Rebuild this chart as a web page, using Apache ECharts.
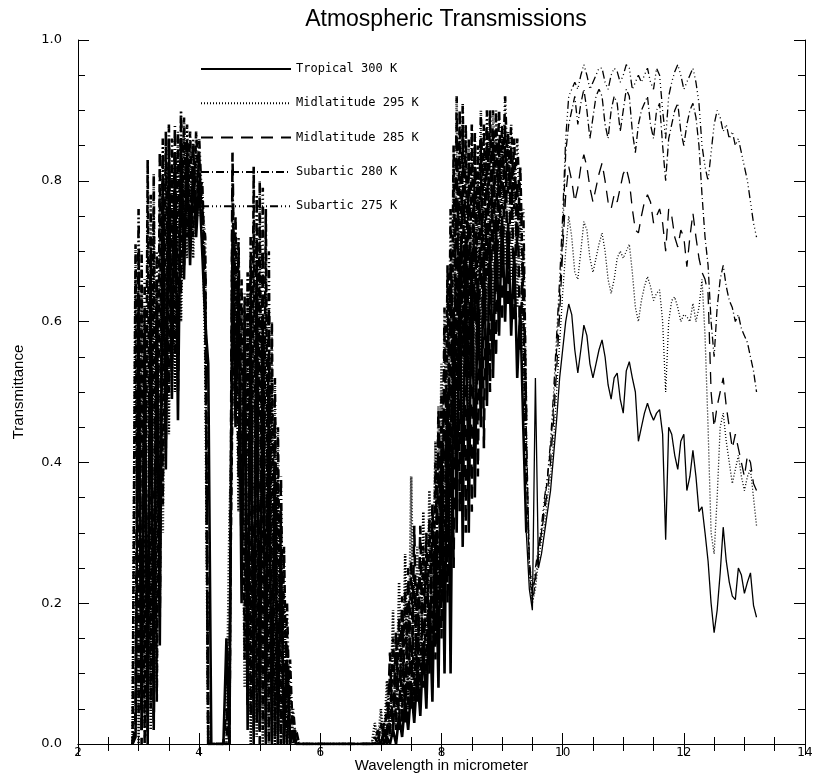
<!DOCTYPE html>
<html>
<head>
<meta charset="utf-8">
<script src="https://cdn.jsdelivr.net/npm/echarts@6/dist/echarts.min.js"></script>
<style>html,body{margin:0;padding:0;background:#fff}#chart{width:817px;height:775px}</style>
</head>
<body>
<div id="chart"></div>
<script>
// Wavelength grid (micrometer)
const wavelength = [
2.9,2.95,3,3.05,3.1,3.15,3.2,3.25,3.3,3.35,3.4,3.45,3.5,3.55,3.6,3.65,3.7,3.75,3.8,3.85,3.9,3.95,4,4.05,4.1,4.15,4.2,
4.25,4.3,4.35,4.4,
4.45,4.5,4.55,4.6,4.65,4.7,4.75,4.8,4.85,4.9,4.95,5,5.05,5.1,5.15,5.2,5.25,5.3,5.35,5.4,5.45,5.5,5.55,5.6,5.65,
5.7,5.75,5.8,5.85,5.9,5.95,6,6.05,6.1,6.15,6.2,6.25,6.3,6.35,6.4,6.45,6.5,6.55,6.6,6.65,6.7,6.75,6.8,
6.85,6.9,6.95,7,7.05,7.1,7.15,7.2,7.25,7.3,7.35,7.4,7.45,7.5,7.55,7.6,7.65,7.7,7.75,7.8,7.85,7.9,7.95,8,8.05,8.1,8.15,8.2,8.25,8.3,8.35,8.4,8.45,8.5,8.55,8.6,8.65,8.7,8.75,8.8,8.85,8.9,8.95,9,9.05,9.1,9.15,9.2,9.25,9.3,9.35,9.4,9.45,9.5,9.55,9.6,9.65,9.7,9.75,9.8,9.85,9.9,9.95,10,
10.05,10.1,10.15,10.2,10.25,10.3,10.35,10.4,10.45,10.5,10.55,10.6,10.65,10.7,10.75,10.8,10.85,10.9,10.95,11,11.05,11.1,11.15,11.2,11.25,11.3,11.35,11.4,11.45,11.5,11.55,11.6,11.65,11.7,11.75,11.8,11.85,11.9,11.95,12,12.05,12.1,12.15,12.2,12.25,12.3,12.35,12.4,12.45,12.5,12.55,12.6,12.65,12.7,12.75,12.8,12.85,12.9,12.95,13,13.05,13.1,13.15,13.2
];

const tropical300 = [
0,0.01,0.62,0.02,0.58,0,0.66,0.03,0.62,0.14,0.80,0.39,0.82,0.49,0.83,0.46,0.85,0.66,0.84,0.68,0.82,0.72,0.80,0.70,0.60,0.54,0,
0,0,0,0,
0.15,0,0.72,0.45,0.66,0.2,0.6,0.02,0.62,0,0.64,0.02,0.6,0,0.5,0,0.4,0,0.28,0,0.12,0,0.02,0,0,
0,0,0,0,0,0,0,0,0,0,0,0,0,0,0,0,0,0,0,0,0,0,0,
0,0,0,0,0,0.01,0,0.02,0,0.04,0.01,0.06,0.02,0.08,0.03,0.1,0.04,0.14,0.05,0.2,0.06,0.3,0.08,0.42,0.1,0.5,0.1,0.62,0.3,0.7,0.28,0.72,0.3,0.7,0.35,0.66,0.45,0.7,0.48,0.72,0.52,0.74,0.58,0.75,0.6,0.74,0.58,0.7,0.52,0.62,0.45,0.3,0.22,0.19,0.52,0.25,0.27,0.3,0.33,0.36,0.41,0.46,0.52,0.56,
0.60,0.625,0.61,0.56,0.527,0.56,0.595,0.58,0.54,0.52,0.54,0.56,0.574,0.55,0.51,0.49,0.52,0.527,0.49,0.47,0.53,0.543,0.52,0.5,0.43,0.45,0.47,0.484,0.47,0.46,0.47,0.475,0.44,0.29,0.45,0.44,0.41,0.39,0.43,0.44,0.36,0.38,0.417,0.38,0.33,0.337,0.3,0.26,0.2,0.158,0.19,0.243,0.308,0.26,0.23,0.21,0.205,0.25,0.24,0.214,0.23,0.243,0.197,0.18
];

const midlatitude295 = [
0,0.66,0,0.64,0.03,0.74,0.02,0.75,0.08,0.78,0.3,0.83,0.44,0.82,0.5,0.84,0.6,0.86,0.69,0.84,0.69,0.84,0.75,0.78,0.55,0,0,
0,0,0,0,
0,0.32,0.48,0.72,0.33,0.62,0.08,0.64,0,0.74,0.01,0.74,0,0.66,0.01,0.52,0,0.38,0,0.22,0,0.08,0,0.01,0,
0,0,0,0,0,0,0,0,0,0,0,0,0,0,0,0,0,0,0,0,0,0,0,
0,0.03,0,0.05,0,0.09,0.02,0.19,0.03,0.23,0.04,0.27,0.05,0.38,0.06,0.28,0.08,0.33,0.1,0.36,0.14,0.43,0.2,0.54,0.25,0.66,0.3,0.82,0.45,0.86,0.42,0.85,0.45,0.84,0.5,0.8,0.55,0.84,0.6,0.86,0.62,0.86,0.66,0.86,0.68,0.85,0.66,0.82,0.62,0.76,0.55,0.42,0.24,0.2,0.22,0.26,0.29,0.31,0.35,0.38,0.43,0.5,0.57,0.64,
0.70,0.75,0.72,0.67,0.66,0.70,0.742,0.73,0.69,0.67,0.69,0.71,0.726,0.70,0.66,0.64,0.66,0.69,0.70,0.69,0.70,0.71,0.67,0.62,0.60,0.63,0.65,0.664,0.65,0.63,0.64,0.645,0.60,0.50,0.60,0.63,0.635,0.62,0.60,0.61,0.607,0.60,0.626,0.60,0.62,0.66,0.58,0.45,0.30,0.27,0.35,0.45,0.47,0.43,0.40,0.37,0.39,0.41,0.38,0.36,0.38,0.39,0.35,0.31
];

const midlatitude285 = [
0,0.03,0.70,0,0.62,0.04,0.72,0.02,0.66,0.18,0.84,0.42,0.86,0.53,0.86,0.5,0.88,0.68,0.86,0.7,0.85,0.74,0.84,0.72,0.68,0,0,
0,0,0,0,
0.05,0,0.84,0.48,0.7,0.25,0.62,0.05,0.68,0.02,0.72,0,0.7,0.02,0.62,0,0.46,0.01,0.33,0,0.16,0,0.04,0,0,
0,0,0,0,0,0,0,0,0,0,0,0,0,0,0,0,0,0,0,0,0,0,0,
0,0,0.01,0,0.03,0,0.13,0.01,0.16,0.02,0.21,0.03,0.25,0.05,0.31,0.06,0.31,0.08,0.3,0.1,0.34,0.12,0.46,0.15,0.58,0.2,0.7,0.25,0.88,0.33,0.88,0.3,0.84,0.33,0.85,0.38,0.86,0.42,0.87,0.5,0.87,0.55,0.86,0.6,0.88,0.62,0.85,0.6,0.8,0.56,0.7,0.45,0.26,0.21,0.24,0.27,0.3,0.33,0.36,0.4,0.46,0.53,0.61,0.7,
0.78,0.82,0.80,0.77,0.79,0.82,0.837,0.82,0.79,0.77,0.79,0.81,0.825,0.80,0.77,0.76,0.78,0.77,0.79,0.81,0.818,0.80,0.76,0.73,0.726,0.75,0.77,0.78,0.77,0.74,0.75,0.76,0.74,0.70,0.76,0.75,0.72,0.706,0.73,0.72,0.678,0.72,0.754,0.72,0.69,0.67,0.66,0.64,0.50,0.45,0.48,0.50,0.52,0.48,0.45,0.42,0.44,0.42,0.40,0.38,0.41,0.40,0.37,0.36
];

const subartic280 = [
0,0.71,0.04,0.70,0,0.83,0.05,0.81,0.06,0.84,0.34,0.87,0.5,0.86,0.55,0.87,0.64,0.89,0.72,0.87,0.72,0.87,0.78,0.8,0.66,0,0,
0,0,0,0,
0,0.12,0.5,0.75,0.38,0.66,0.12,0.67,0.04,0.82,0.03,0.8,0.02,0.76,0,0.6,0.01,0.45,0,0.28,0,0.12,0,0.02,0,
0,0,0,0,0,0,0,0,0,0,0,0,0,0,0,0,0,0,0,0,0,0,0,
0,0.01,0,0.03,0,0.06,0.01,0.15,0.02,0.18,0.03,0.22,0.04,0.26,0.05,0.23,0.06,0.28,0.08,0.32,0.12,0.4,0.18,0.5,0.22,0.68,0.35,0.85,0.5,0.9,0.55,0.88,0.52,0.88,0.6,0.85,0.65,0.88,0.66,0.9,0.7,0.9,0.74,0.88,0.76,0.87,0.74,0.86,0.7,0.82,0.62,0.38,0.25,0.2,0.23,0.28,0.3,0.34,0.38,0.42,0.48,0.56,0.64,0.72,
0.84,0.88,0.90,0.92,0.88,0.91,0.93,0.90,0.86,0.89,0.92,0.93,0.92,0.88,0.86,0.90,0.92,0.91,0.87,0.90,0.93,0.92,0.87,0.84,0.88,0.90,0.91,0.92,0.88,0.86,0.90,0.91,0.85,0.80,0.86,0.88,0.90,0.91,0.87,0.85,0.88,0.90,0.91,0.89,0.85,0.78,0.72,0.68,0.60,0.55,0.62,0.66,0.68,0.65,0.63,0.62,0.60,0.61,0.59,0.58,0.57,0.55,0.53,0.50
];

const subartic275 = [
0,0.02,0.76,0.05,0.66,0.01,0.78,0.06,0.70,0.2,0.86,0.45,0.88,0.56,0.88,0.58,0.90,0.7,0.88,0.73,0.86,0.76,0.86,0.76,0.72,0,0,
0,0,0,0,
0,0,0.8,0.5,0.72,0.3,0.64,0.1,0.72,0.06,0.78,0.04,0.79,0.01,0.7,0.02,0.52,0,0.38,0.01,0.2,0,0.05,0,0,
0,0,0,0,0,0,0,0,0,0,0,0,0,0,0,0,0,0,0,0,0,0,0,
0,0,0.02,0,0.02,0.01,0.1,0.02,0.14,0.03,0.17,0.04,0.2,0.06,0.24,0.07,0.26,0.1,0.27,0.12,0.33,0.15,0.48,0.2,0.62,0.3,0.76,0.4,0.92,0.5,0.91,0.55,0.86,0.58,0.87,0.62,0.9,0.68,0.9,0.72,0.9,0.74,0.9,0.76,0.92,0.78,0.88,0.76,0.86,0.74,0.76,0.45,0.26,0.22,0.25,0.28,0.31,0.35,0.38,0.43,0.5,0.58,0.66,0.75,
0.86,0.92,0.93,0.94,0.93,0.95,0.965,0.95,0.93,0.94,0.95,0.96,0.96,0.94,0.93,0.95,0.96,0.955,0.94,0.95,0.965,0.96,0.93,0.94,0.95,0.94,0.95,0.96,0.94,0.93,0.96,0.95,0.90,0.86,0.92,0.94,0.955,0.965,0.95,0.93,0.94,0.95,0.96,0.94,0.91,0.85,0.82,0.80,0.84,0.88,0.90,0.89,0.87,0.88,0.86,0.87,0.85,0.86,0.84,0.82,0.80,0.77,0.74,0.72
];

const seriesNames = ['Tropical 300 K', 'Midlatitude 295 K', 'Midlatitude 285 K', 'Subartic 280 K', 'Subartic 275 K'];
const seriesValues = [tropical300, midlatitude295, midlatitude285, subartic280, subartic275];
const dashStyles = ['solid', [1, 2], [12, 8], [8, 3, 1, 3], [8, 3, 1, 3, 1, 3, 1, 3]];
const xTicks = [2, 4, 6, 8, 10, 12, 14];
const yTicks = [0, 0.2, 0.4, 0.6, 0.8, 1.0];
// dense absorption bands (below 9.4 um) are drawn with heavier strokes, the window region with thin ones
const bandEndIndex = wavelength.indexOf(9.4);

seriesValues.forEach((a, k) => { if (a.length !== wavelength.length) console.error('length mismatch', k, a.length); });

const chart = echarts.init(document.getElementById('chart'), null, {renderer: 'canvas'});
const font = 'DejaVu Sans';
const axisCommon = {
  axisLine: {show: true, lineStyle: {color: '#000', width: 1}},
  axisTick: {show: true, inside: true, length: 11, lineStyle: {color: '#000'}},
  minorTick: {show: true, splitNumber: 4, length: 7, lineStyle: {color: '#000'}},
  splitLine: {show: false}
};

const pairs = (k, from, to) => wavelength.slice(from, to + 1).map((w, j) => [w, seriesValues[k][from + j]]);
const thinSeries = seriesNames.map((name, k) => ({
  name: name, type: 'line', showSymbol: false, symbol: 'none', clip: true,
  lineStyle: {color: '#000', width: 1.3, type: dashStyles[k]},
  itemStyle: {color: '#000'}, emphasis: {disabled: true},
  data: pairs(k, bandEndIndex, wavelength.length - 1)
}));
const bandSeries = seriesNames.map((name, k) => ({
  name: name, type: 'line', showSymbol: false, symbol: 'none', clip: true,
  lineStyle: {color: '#000', width: 2.6, type: dashStyles[k]},
  itemStyle: {color: '#000'}, emphasis: {disabled: true},
  data: pairs(k, 0, bandEndIndex)
}));

chart.setOption({
  animation: false,
  backgroundColor: '#fff',
  title: {
    text: 'Atmospheric Transmissions', left: 441, top: 3, textAlign: 'center',
    textStyle: {fontFamily: 'Liberation Sans', fontWeight: 'normal', fontSize: 23, color: '#000'}
  },
  grid: {left: 78, right: 12, top: 40, bottom: 31, containLabel: false, outerBoundsMode: 'none'},
  legend: {
    orient: 'vertical', left: 195, top: 57, itemWidth: 90, itemHeight: 14, itemGap: 20.3,
    selectedMode: false, data: seriesNames,
    itemStyle: {opacity: 0, borderWidth: 0, color: 'transparent'},
    textStyle: {fontFamily: 'DejaVu Sans Mono', fontSize: 12, color: '#000', lineHeight: 14}
  },
  xAxis: [
    Object.assign({}, axisCommon, {
      type: 'value', min: xTicks[0], max: xTicks[xTicks.length - 1], interval: 2, position: 'bottom',
      name: 'Wavelength in micrometer', nameLocation: 'middle', nameGap: 14, nameMoveOverlap: false,
      nameTextStyle: {fontFamily: 'Liberation Sans', fontSize: 15, color: '#000', verticalAlign: 'top', lineHeight: 15},
      axisLabel: {show: true, margin: 3, color: '#000', fontFamily: font, fontSize: 12}
    }),
    Object.assign({}, axisCommon, {
      type: 'value', min: xTicks[0], max: xTicks[xTicks.length - 1], interval: 2, position: 'top',
      axisLabel: {show: false}
    })
  ],
  yAxis: [
    Object.assign({}, axisCommon, {
      type: 'value', min: yTicks[0], max: yTicks[yTicks.length - 1], interval: 0.2, position: 'left',
      name: 'Transmittance', nameLocation: 'middle', nameGap: 52, nameRotate: 90, nameMoveOverlap: false,
      nameTextStyle: {fontFamily: 'Liberation Sans', fontSize: 15, color: '#000'},
      axisLabel: {show: true, margin: 16, color: '#000', fontFamily: font, fontSize: 13,
        formatter: v => v.toFixed(1)}
    }),
    Object.assign({}, axisCommon, {
      type: 'value', min: yTicks[0], max: yTicks[yTicks.length - 1], interval: 0.2, position: 'right',
      axisLabel: {show: false}
    })
  ],
  series: thinSeries.concat(bandSeries)
});
</script>
</body>
</html>
